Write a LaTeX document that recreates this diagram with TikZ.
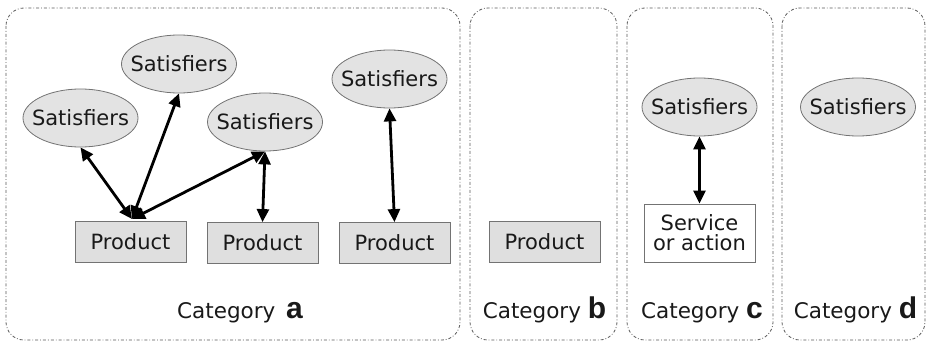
\documentclass[tikz,border=0pt]{standalone}
\usepackage{fontspec}
\setmainfont{DejaVu Sans}
\newfontfamily\lbf{Liberation Sans}
\usetikzlibrary{arrows.meta,shapes.geometric}
\newcommand{\zw}[1]{\makebox[0pt]{#1}}
\begin{document}
\begin{tikzpicture}[x=1pt,y=-1pt,
 panel/.style={draw=black!65, dash pattern=on 3pt off 2pt on 0.8pt off 2pt, rounded corners=18pt, line width=0.8pt},
 sat/.style={ellipse, draw=black!55, line width=0.8pt, fill=gray!22, minimum width=115pt, minimum height=58pt, inner sep=0pt, text=black!90, font=\fontsize{21}{21}\selectfont},
 prod/.style={rectangle, draw=black!55, line width=0.8pt, fill=gray!25, minimum width=111pt, minimum height=41pt, inner sep=0pt, text=black!90, font=\fontsize{21}{21}\selectfont},
 serv/.style={rectangle, draw=black!55, line width=0.8pt, fill=white, minimum width=111pt, minimum height=58pt, inner sep=0pt, align=center, text=black!90, font=\fontsize{21}{20}\selectfont},
 catlbl/.style={anchor=base, inner sep=0pt, text=black!90, font=\fontsize{21.5}{22}\selectfont},
 conn/.style={line width=2.8pt, {Triangle[length=13pt,width=12pt]}-{Triangle[length=13pt,width=12pt]}}
]
\useasboundingbox (0,0) rectangle (927,342);
% panels
\draw[panel] (6,8) rectangle (460,340);
\draw[panel] (470,8) rectangle (617,340);
\draw[panel] (627,8) rectangle (773,340);
\draw[panel] (782,8) rectangle (925,340);
% category a
\node[sat] (s1) at (80.5,118) {\zw{Satisfiers}};
\node[sat] (s2) at (179,64) {\zw{Satisfiers}};
\node[sat] (s3) at (265,122) {\zw{Satisfiers}};
\node[sat] (s4) at (389.5,79) {\zw{Satisfiers}};
\node[prod] (p1) at (130.5,241.5) {Product};
\node[prod] (p2) at (262.5,243) {Product};
\node[prod] (p3) at (394.5,243) {Product};
\coordinate (p1t) at (132,219);
\draw[conn] (s1.south) -- (p1t);
\draw[conn] (s2.south) -- (p1t);
\draw[conn] (s3.south) -- (p1t);
\draw[conn] (s3.south) -- (p2.north);
\draw[conn] (s4.south) -- (p3.north);
\node[catlbl] (ca) at (240,318) {Category\enspace{\lbf\bfseries\fontsize{30}{30}\selectfont a}};
% category b
\node[prod] (pb) at (544.5,241.5) {Product};
\node[catlbl] (cb) at (544.5,318) {Category {\lbf\bfseries\fontsize{30}{30}\selectfont b}};
% category c
\node[sat] (sc) at (699.5,107) {\zw{Satisfiers}};
\node[serv] (svc) at (699.5,233) {Service\\or action};
\draw[conn] (sc.south) -- (svc.north);
\node[catlbl] (cc) at (702,318) {Category {\lbf\bfseries\fontsize{30}{30}\selectfont c}};
% category d
\node[sat] (sd) at (858,107) {\zw{Satisfiers}};
\node[catlbl] (cd) at (855.5,318) {Category {\lbf\bfseries\fontsize{30}{30}\selectfont d}};
\end{tikzpicture}
\end{document}
